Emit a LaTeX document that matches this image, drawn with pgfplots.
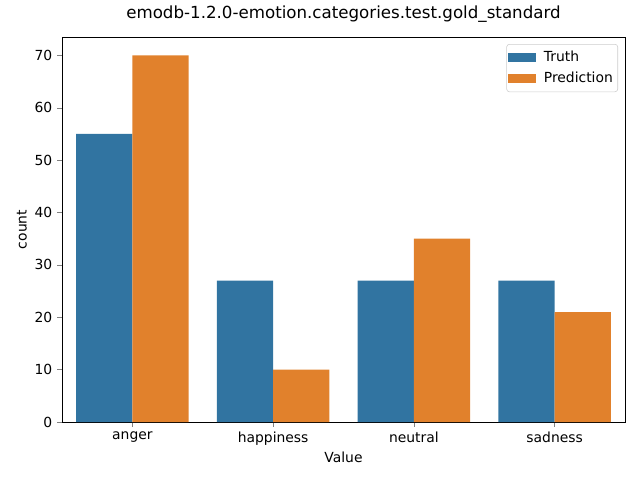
\documentclass[border=0pt]{standalone}
\usepackage{pgfplots}
\pgfplotsset{compat=1.18}
\usepackage{fontspec}
\setmainfont{DejaVu Sans}
\definecolor{sbblue}{RGB}{49,116,161}
\definecolor{sborange}{RGB}{225,129,44}
\begin{document}
\begin{tikzpicture}
\path[use as bounding box] (-44.64pt,-41.76pt) rectangle ++(460.8pt,345.6pt);
\begin{axis}[
  scale only axis, width=405.36pt, height=277.2pt,
  at={(0,0)}, anchor=south west,
  xmin=-0.5, xmax=3.5, ymin=0, ymax=73.5,
  xtick={0,1,2,3}, xticklabels={anger,happiness,neutral,sadness},
  ytick={0,10,20,30,40,50,60,70},
  tick align=outside, tick pos=left,
  major tick length=3.5pt,
  /pgf/number format/assume math mode=true,
  tick label style={font=\fontsize{10}{12}\selectfont},
  ybar, bar width=0.4, bar shift=0pt,
  title={emodb-1.2.0-emotion.categories.test.gold\_standard},
  title style={font=\fontsize{12}{14}\selectfont, at={(axis description cs:0.5,1.039)}, anchor=center},
  xlabel={Value}, ylabel={count},
  xlabel style={font=\fontsize{10}{12}\selectfont, at={(axis description cs:0.5,-0.0909)}, anchor=center},
  ylabel style={font=\fontsize{10}{12}\selectfont, at={(axis description cs:-0.0711,0.5)}, anchor=center, rotate=0},
  legend style={at={(axis description cs:0.9876,0.9818)}, anchor=north east, font=\fontsize{10}{12}\selectfont, draw=black!20, rounded corners=2pt, inner xsep=1pt, inner ysep=3pt, row sep=2pt, column sep=3.3pt,
    nodes={inner xsep=2.5pt}},
  legend cell align=left,
  legend image code/.code={\fill[#1,draw=none,sharp corners] (0pt,-3.2pt) rectangle (20pt,3.3pt);},
  axis line style={line width=0.6pt},
]
\addplot[fill=sbblue, draw=none, bar shift=-0.2] coordinates {(0,55) (1,27) (2,27) (3,27)};
\addplot[fill=sborange, draw=none, bar shift=0.2] coordinates {(0,70) (1,10) (2,35) (3,21)};
\legend{Truth,Prediction}
\end{axis}
\end{tikzpicture}
\end{document}
